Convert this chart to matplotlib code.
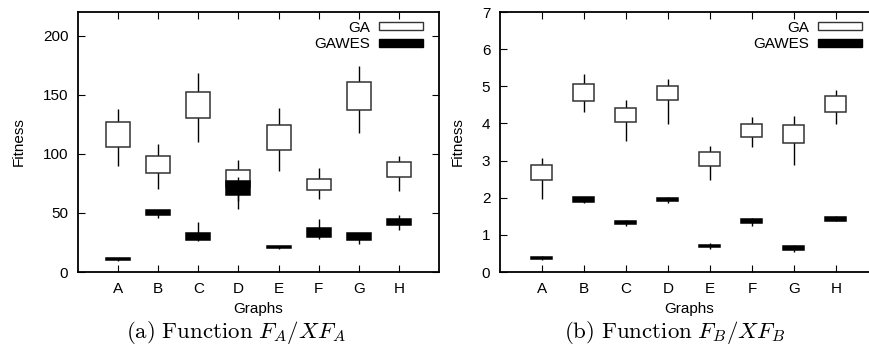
import matplotlib
matplotlib.use("Agg")
import matplotlib.pyplot as plt
from matplotlib.patches import Patch
import numpy as np

plt.rcParams['font.family'] = ['Liberation Sans', 'DejaVu Sans']
plt.rcParams['mathtext.fontset'] = 'cm'

categories = ['A', 'B', 'C', 'D', 'E', 'F', 'G', 'H']

# Panel (a): Function F_A / XF_A
a_ga_min = [89.6, 70.0, 109.6, 53.0, 85.4, 62.0, 117.5, 68.5]
a_ga_q1 = [106.0, 84.0, 130.0, 72.0, 103.4, 69.0, 136.9, 80.3]
a_ga_q3 = [127.0, 98.3, 152.7, 86.5, 124.5, 78.9, 160.6, 93.0]
a_ga_max = [138.0, 108.0, 168.7, 95.0, 138.6, 87.9, 174.4, 98.0]

a_gw_min = [9.2, 46.0, 26.0, 60.0, 19.4, 27.9, 23.7, 35.8]
a_gw_q1 = [10.0, 48.5, 26.8, 65.3, 20.5, 29.6, 27.3, 39.7]
a_gw_q3 = [11.5, 52.4, 33.2, 77.1, 22.0, 36.9, 32.7, 44.8]
a_gw_max = [12.0, 52.8, 42.0, 80.0, 22.3, 44.8, 33.2, 48.5]

# Panel (b): Function F_B / XF_B
b_ga_min = [1.97, 4.32, 3.53, 3.99, 2.49, 3.37, 2.89, 3.99]
b_ga_q1 = [2.47, 4.61, 4.03, 4.64, 2.85, 3.63, 3.48, 4.32]
b_ga_q3 = [2.89, 5.05, 4.42, 5.02, 3.23, 3.98, 3.95, 4.74]
b_ga_max = [3.08, 5.34, 4.62, 5.19, 3.39, 4.16, 4.20, 4.91]

b_gw_min = [0.33, 1.85, 1.25, 1.87, 0.62, 1.25, 0.54, 1.36]
b_gw_q1 = [0.35, 1.88, 1.28, 1.90, 0.67, 1.32, 0.58, 1.38]
b_gw_q3 = [0.40, 2.01, 1.37, 2.00, 0.74, 1.42, 0.69, 1.47]
b_gw_max = [0.42, 2.03, 1.40, 2.02, 0.78, 1.45, 0.72, 1.50]

a_yticks = [0, 50, 100, 150, 200]
b_yticks = [0, 1, 2, 3, 4, 5, 6, 7]

W, H = 870, 346
fig = plt.figure(figsize=(W / 100, H / 100), dpi=100)

def px_axes(l, r, t, b):
    return fig.add_axes([l / W, (H - b) / H, (r - l) / W, (b - t) / H])

ax1 = px_axes(78, 439, 12, 272)
ax2 = px_axes(500, 878, 12, 272)

FS = 11

def draw(ax, ga, gw, ylim, yticks, width, wpx):
    x = np.arange(1, len(categories) + 1)
    ga_min, ga_q1, ga_q3, ga_max = [np.array(v) for v in ga]
    gw_min, gw_q1, gw_q3, gw_max = [np.array(v) for v in gw]
    ax.vlines(x, ga_min, ga_max, color='black', lw=1.0, zorder=1)
    ax.bar(x, ga_q3 - ga_q1, bottom=ga_q1, width=width, facecolor='white',
           edgecolor='#333333', lw=1.1, zorder=2)
    ax.vlines(x, gw_min, gw_max, color='black', lw=1.0, zorder=3)
    ax.bar(x, gw_q3 - gw_q1, bottom=gw_q1, width=width, facecolor='black',
           edgecolor='black', lw=1.1, zorder=4)
    ax.set_xlim(0, 9)
    ax.set_ylim(*ylim)
    ax.set_xticks(x)
    ax.set_xticklabels(categories)
    ax.set_yticks(yticks)
    ax.tick_params(direction='in', length=4.8, width=0.8, top=True, right=True,
                   labelsize=FS, pad=7)
    for s in ax.spines.values():
        s.set_linewidth(1.3)
    ax.set_xlabel('Graphs', fontsize=FS, va='center')
    ax.set_ylabel('Fitness', fontsize=FS, va='center')
    handles = [Patch(facecolor='white', edgecolor='#333333', lw=1.0, label='GA'),
               Patch(facecolor='black', edgecolor='black', lw=1.0, label='GAWES')]
    ax.legend(handles=handles, loc='upper right', frameon=False, markerfirst=False,
              fontsize=FS, handlelength=2.9, handleheight=0.42, labelspacing=0.17,
              handletextpad=0.55, borderaxespad=0.0, borderpad=0.25,
              bbox_to_anchor=(1 - 12.2 / wpx, 1 - 4.9 / 260))

draw(ax1, (a_ga_min, a_ga_q1, a_ga_q3, a_ga_max),
     (a_gw_min, a_gw_q1, a_gw_q3, a_gw_max), (0, 220), a_yticks, 0.6, 361)
draw(ax2, (b_ga_min, b_ga_q1, b_ga_q3, b_ga_max),
     (b_gw_min, b_gw_q1, b_gw_q3, b_gw_max), (0, 7), b_yticks, 0.5, 378)

ax1.xaxis.set_label_coords(0.5, -37 / 260)
ax2.xaxis.set_label_coords(0.5, -37 / 260)
ax1.yaxis.set_label_coords((19 - 78) / 361, 0.5)
ax2.yaxis.set_label_coords((458 - 500) / 378, 0.5)

fig.text(236 / W, (H - 332) / H, r'$\mathrm{(a)\ Function}\ F_A/XF_A$',
         ha='center', va='center', fontsize=16.5)
fig.text(675 / W, (H - 332) / H, r'$\mathrm{(b)\ Function}\ F_B/XF_B$',
         ha='center', va='center', fontsize=16.5)

fig.savefig('out.png', dpi=100)
